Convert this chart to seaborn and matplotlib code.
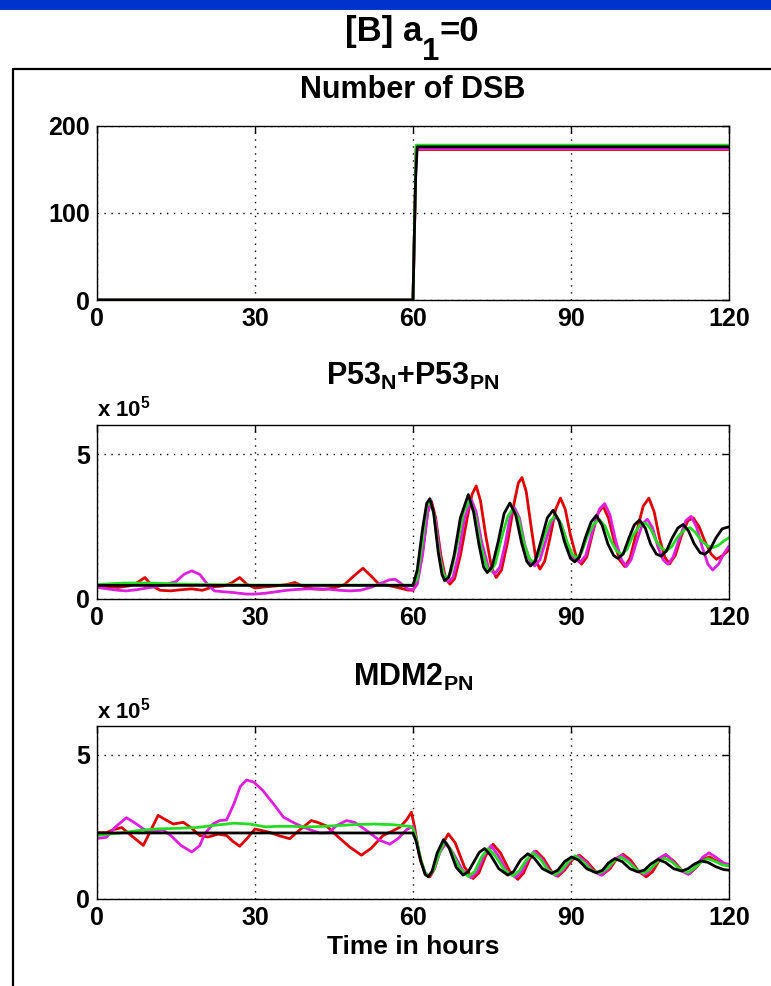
import matplotlib
matplotlib.use("Agg")
import matplotlib.pyplot as plt
import pandas as pd
import seaborn as sns
from matplotlib.lines import Line2D
from matplotlib.patches import Rectangle

sns.set_style("white")
plt.rcParams['font.family'] = ['Liberation Sans', 'DejaVu Sans']
plt.rcParams['font.weight'] = 'bold'
plt.rcParams['text.color'] = 'black'
plt.rcParams['axes.labelcolor'] = 'black'
plt.rcParams['xtick.color'] = 'black'
plt.rcParams['ytick.color'] = 'black'
plt.rcParams['mathtext.fontset'] = 'custom'
plt.rcParams['mathtext.rm'] = 'Liberation Sans:bold'
plt.rcParams['mathtext.bf'] = 'Liberation Sans:bold'
plt.rcParams['mathtext.it'] = 'Liberation Sans:bold'
plt.rcParams['mathtext.default'] = 'rm'

# ---------------- data ----------------
runs = ['red', 'magenta', 'green', 'black']
run_colors = {'red': '#e00000', 'magenta': '#e01ee0', 'green': '#22dd22', 'black': '#000000'}
x_ticks = [0, 30, 60, 90, 120]

# Number of DSB
dsb_t_red = [0, 60, 60.6, 120]
dsb_v_red = [0, 0, 173, 173]
dsb_t_magenta = [0, 60, 60.6, 120]
dsb_v_magenta = [0, 0, 174, 174]
dsb_t_green = [0, 60, 60.6, 120]
dsb_v_green = [0, 0, 178, 178]
dsb_t_black = [0, 60, 60.2, 60.5, 60.8, 120]
dsb_v_black = [0, 0, 60, 140, 176, 176]

# P53_N + P53_PN (x 1e5)
p53_t_red = [0, 2, 4, 6, 7.5, 9.1, 10.5, 12, 14, 16, 18, 20, 22, 24, 25.5, 27.1, 28.5, 30, 32, 34, 36, 37.6, 39, 41, 43, 45, 47, 48.8, 50.5, 52, 53.5, 55, 57, 59, 60,
             60.8, 61.8, 62.8, 63.5, 64.3, 65.3, 66.2, 67.0, 67.9, 69.0, 70.3, 71.2, 72.0, 72.8, 73.8, 74.9, 75.8, 76.8, 78.0, 79.3, 80.0, 80.7, 81.5, 82.5, 83.4, 84.1,
             85.0, 86.0, 87.1, 88.0, 88.9, 89.9, 91.0, 92.0, 93.0, 94.0, 95.1, 96.1, 97.1, 98.2, 99.2, 100.2, 101.2, 102.3, 103.7, 104.8, 105.8, 106.8, 107.8, 108.7,
             109.8, 111.0, 112.2, 113.2, 114.3, 115.4, 116.6, 117.6, 118.8, 120]
p53_v_red = [0.45, 0.42, 0.40, 0.45, 0.55, 0.74, 0.45, 0.30, 0.28, 0.32, 0.35, 0.30, 0.42, 0.45, 0.55, 0.74, 0.50, 0.38, 0.42, 0.45, 0.50, 0.57, 0.45, 0.35, 0.33, 0.38, 0.50, 0.80, 1.06, 0.80, 0.52, 0.48, 0.40, 0.31, 0.30,
             0.6, 1.6, 3.0, 3.37, 2.8, 1.5, 0.7, 0.51, 0.7, 1.5, 2.8, 3.6, 3.90, 3.4, 2.2, 1.1, 0.74, 1.0, 2.0, 3.4, 4.0, 4.19, 3.7, 2.4, 1.3, 1.03,
             1.3, 2.1, 3.1, 3.48, 3.1, 2.2, 1.45, 1.20, 1.45, 2.2, 2.95, 3.2, 2.8, 2.0, 1.35, 1.12, 1.4, 2.2, 3.2, 3.48, 3.0, 2.1, 1.45, 1.21,
             1.5, 2.2, 2.7, 2.80, 2.5, 2.0, 1.55, 1.37, 1.5, 1.69]
p53_t_magenta = [0, 2, 4, 5.6, 7.5, 9.5, 11, 13, 15, 16.5, 18, 19.5, 21, 22.3, 24, 26, 28.4, 30, 32, 34, 36, 38, 40, 42, 44, 46, 48, 50, 52, 54, 55.5, 56.6, 58, 59, 60,
                 60.8, 61.8, 62.8, 63.5, 64.3, 65.3, 66.1, 66.8, 67.6, 68.6, 69.8, 71.1, 72.0, 73.0, 74.3, 75.5, 76.5, 77.5, 78.5, 79.3, 80.2, 81.2, 82.2, 83.1,
                 84.1, 85.2, 86.3, 87.2, 88.2, 89.3, 90.5, 91.7, 92.8, 94.0, 95.4, 96.4, 97.4, 98.5, 99.6, 100.5, 101.4, 102.5, 103.6, 104.5, 105.5, 106.5,
                 107.5, 108.4, 109.4, 110.6, 111.8, 112.8, 113.8, 114.9, 116.0, 116.9, 118.0, 119.0, 120]
p53_v_magenta = [0.40, 0.35, 0.30, 0.28, 0.32, 0.38, 0.42, 0.50, 0.60, 0.85, 0.97, 0.85, 0.50, 0.28, 0.25, 0.22, 0.17, 0.17, 0.20, 0.25, 0.30, 0.33, 0.35, 0.35, 0.34, 0.30, 0.28, 0.30, 0.40, 0.55, 0.66, 0.68, 0.50, 0.35, 0.32,
                 0.5, 1.5, 3.0, 3.3, 2.7, 1.3, 0.7, 0.6, 0.75, 1.5, 2.8, 3.42, 3.0, 2.0, 1.1, 0.86, 1.1, 1.9, 2.9, 3.14, 2.8, 1.9, 1.3, 1.14,
                 1.35, 2.0, 2.65, 2.85, 2.55, 1.9, 1.4, 1.26, 1.5, 2.3, 3.1, 3.29, 2.9, 2.0, 1.35, 1.12, 1.35, 2.0, 2.6, 2.75, 2.45, 1.8,
                 1.35, 1.2, 1.45, 2.1, 2.7, 2.85, 2.5, 1.8, 1.2, 1.0, 1.2, 1.55, 1.83]
p53_t_green = [0, 5, 10, 15, 20, 30, 40, 50, 60,
               60.8, 61.8, 62.6, 63.2, 64.0, 65.0, 65.8, 66.3, 67.2, 68.3, 69.6, 70.8, 71.8, 72.9, 74.0, 74.7, 75.6, 76.8, 78.0, 79.0, 80.0, 81.1, 82.1, 82.8,
               83.8, 85.0, 86.1, 87.1, 88.1, 89.2, 90.2, 91.0, 92.0, 93.2, 94.4, 95.4, 96.5, 97.6, 98.7, 99.6, 100.6, 101.8, 103.1, 104.2, 105.2, 106.2,
               107.2, 108.1, 109.1, 110.3, 111.6, 112.6, 113.6, 114.8, 116.0, 117.0, 118.0, 119.0, 120]
p53_v_green = [0.50, 0.55, 0.55, 0.52, 0.50, 0.48, 0.48, 0.48, 0.48,
               0.7, 2.0, 3.2, 3.4, 2.9, 1.5, 0.85, 0.7, 0.9, 1.8, 3.0, 3.4, 2.9, 1.8, 1.1, 0.97, 1.2, 2.1, 2.85, 3.11, 2.8, 1.9, 1.4, 1.26,
               1.5, 2.2, 2.7, 2.88, 2.6, 2.0, 1.55, 1.42, 1.6, 2.2, 2.6, 2.74, 2.5, 2.0, 1.65, 1.54, 1.7, 2.2, 2.55, 2.62, 2.4, 2.0,
               1.75, 1.66, 1.8, 2.15, 2.4, 2.46, 2.3, 2.0, 1.82, 1.78, 1.85, 2.0, 2.11]
p53_t_black = [0, 60, 60.8, 61.8, 62.6, 63.2, 63.9, 64.8, 65.5, 66.0, 66.8, 67.8, 69.0, 70.5, 71.5, 72.5, 73.4, 74.1, 75.0, 76.2, 77.3, 78.4, 79.5, 80.6,
               81.6, 82.3, 83.2, 84.3, 85.5, 86.6, 87.7, 88.8, 89.9, 90.7, 91.6, 92.7, 93.8, 94.8, 95.9, 97.0, 98.1, 98.9, 99.9, 101.0, 102.0, 103.0,
               104.1, 105.1, 106.2, 107.1, 108.1, 109.2, 110.3, 111.3, 112.3, 113.4, 114.5, 115.4, 116.4, 117.5, 118.7, 120]
p53_v_black = [0.47, 0.47, 1.0, 2.4, 3.3, 3.46, 3.0, 1.6, 0.85, 0.63, 0.75, 1.5, 2.8, 3.6, 3.0, 1.9, 1.1, 0.91, 1.1, 2.0, 2.95, 3.31, 2.9, 1.95,
               1.3, 1.14, 1.3, 2.0, 2.8, 3.06, 2.7, 1.95, 1.4, 1.28, 1.45, 2.1, 2.65, 2.88, 2.55, 1.9, 1.5, 1.40, 1.55, 2.1, 2.55, 2.72,
               2.45, 1.9, 1.55, 1.48, 1.65, 2.1, 2.45, 2.57, 2.35, 1.9, 1.6, 1.54, 1.7, 2.1, 2.42, 2.49]

# MDM2_PN (x 1e5)
mdm_t_red = [0, 1.8, 3, 4.7, 6.5, 8.8, 10, 11.6, 13, 14.5, 16.4, 18, 19.5, 21.1, 23, 24.6, 25.8, 27.1, 28.5, 30, 32.8, 34.5, 36.6, 38.5, 40.7, 42, 43.6,
             45.5, 48, 50.2, 52, 54.3, 56, 57.5, 58.8, 59.7, 60.3, 61.2, 62.3, 63.2, 64.1, 65.3, 66.7, 68.0, 69.8, 71.4, 72.5, 73.8, 75.2, 76.6, 78.4,
             79.9, 81.0, 82.2, 83.4, 84.8, 86.3, 87.5, 88.8, 90.2, 91.6, 93.0, 94.7, 96.1, 97.4, 98.7, 99.9, 101.3, 102.9, 104.3, 105.5, 106.8, 108.1,
             109.6, 111.1, 112.5, 113.8, 115.1, 116.3, 117.8, 119.0, 120]
mdm_v_red = [2.3, 2.3, 2.4, 2.48, 2.2, 1.86, 2.3, 2.9, 2.75, 2.6, 2.66, 2.45, 2.2, 2.15, 2.25, 2.2, 2.0, 1.83, 2.1, 2.43, 2.31, 2.2, 2.09, 2.4, 2.72, 2.65, 2.53,
             2.2, 1.8, 1.52, 1.75, 2.2, 2.35, 2.49, 2.75, 3.01, 2.5, 1.5, 0.9, 0.77, 1.05, 1.8, 2.26, 1.95, 1.1, 0.71, 0.9, 1.5, 1.90, 1.6, 0.95,
             0.68, 0.9, 1.4, 1.66, 1.4, 0.95, 0.79, 1.0, 1.35, 1.52, 1.3, 0.95, 0.86, 1.05, 1.4, 1.55, 1.35, 0.95, 0.77, 0.95, 1.35, 1.52,
             1.3, 0.98, 0.88, 1.1, 1.38, 1.46, 1.3, 1.2, 1.17]
mdm_t_magenta = [0, 1.8, 3.5, 5.6, 7.5, 9.4, 11, 12.5, 14, 16, 18, 19.5, 20.5, 22, 23.3, 24.6, 26, 27.2, 28.4, 29.8, 31.5, 33.5, 35.4, 37.3, 39.2, 40.8,
                 42.3, 44, 45.5, 47.4, 49, 51, 53.5, 55.6, 57.2, 58.8, 60, 60.6, 61.5, 62.3, 63.0, 64.0, 65.2, 66.3, 67.6, 69.4, 71.0, 72.2, 73.6, 74.8,
                 76.2, 77.9, 79.5, 80.7, 81.9, 83.0, 84.4, 86.0, 87.2, 88.5, 89.9, 91.3, 92.7, 94.3, 95.8, 97.1, 98.4, 99.7, 101.1, 102.6, 104.0, 105.3,
                 106.6, 108.0, 109.4, 110.9, 112.3, 113.6, 115.0, 116.2, 117.5, 119.0, 120]
mdm_v_magenta = [2.1, 2.14, 2.5, 2.82, 2.6, 2.35, 2.35, 2.4, 2.2, 1.85, 1.63, 1.85, 2.27, 2.6, 2.72, 2.74, 3.3, 3.9, 4.13, 4.05, 3.76, 3.3, 2.84, 2.65, 2.49, 2.38,
                 2.29, 2.3, 2.55, 2.72, 2.65, 2.4, 2.05, 1.90, 2.1, 2.41, 2.52, 2.1, 1.3, 0.9, 0.8, 1.05, 1.65, 1.95, 1.6, 1.0, 0.73, 0.95, 1.55, 1.85,
                 1.5, 0.95, 0.75, 0.95, 1.4, 1.65, 1.4, 0.95, 0.8, 1.0, 1.35, 1.5, 1.3, 0.95, 0.82, 1.05, 1.4, 1.52, 1.3, 0.98, 0.85, 1.05,
                 1.4, 1.55, 1.3, 0.98, 0.85, 1.1, 1.45, 1.6, 1.45, 1.25, 1.2]
mdm_t_green = [0, 2, 5, 8, 11.3, 15, 19, 22, 26, 29, 32, 34, 37, 40, 43, 46, 49, 52.5, 56, 59.4, 60, 60.6, 61.5, 62.3, 63.0, 63.9, 65.0, 66.0, 67.2, 68.9,
               70.5, 71.7, 73.0, 74.3, 75.6, 77.4, 79.0, 80.2, 81.5, 82.8, 84.2, 85.6, 87.0, 88.3, 89.6, 90.8, 92.2, 93.9, 95.5, 96.8, 98.2, 99.5,
               100.9, 102.4, 103.8, 105.1, 106.5, 107.8, 109.2, 110.8, 112.2, 113.5, 114.8, 116.0, 117.4, 118.8, 120]
mdm_v_green = [2.2, 2.25, 2.3, 2.38, 2.43, 2.45, 2.48, 2.55, 2.63, 2.6, 2.5, 2.52, 2.52, 2.5, 2.52, 2.55, 2.58, 2.6, 2.58, 2.52, 2.45, 2.1, 1.35, 0.9, 0.8, 1.0, 1.6, 2.0, 1.7, 1.05,
               0.78, 0.95, 1.45, 1.75, 1.5, 1.0, 0.8, 0.98, 1.35, 1.6, 1.38, 1.0, 0.85, 1.02, 1.32, 1.5, 1.3, 1.0, 0.9, 1.05, 1.32, 1.45,
               1.28, 1.02, 0.9, 1.05, 1.3, 1.42, 1.28, 1.02, 0.92, 1.08, 1.3, 1.4, 1.3, 1.18, 1.15]
mdm_t_black = [0, 60, 60.6, 61.5, 62.3, 62.9, 63.6, 64.6, 65.8, 66.9, 68.2, 69.5, 70.5, 71.6, 72.6, 73.6, 74.8, 76.3, 78.0, 79.1, 80.4, 81.8, 83.0, 84.6,
               86.3, 87.5, 88.8, 90.1, 91.4, 93.0, 94.8, 96.0, 97.1, 98.3, 99.7, 101.2, 102.7, 103.9, 105.2, 106.5, 107.9, 109.5, 111.0, 112.2, 113.5,
               114.7, 116.0, 117.5, 119.0, 120]
mdm_v_black = [2.29, 2.29, 2.0, 1.3, 0.85, 0.77, 0.95, 1.6, 2.06, 1.75, 1.1, 0.83, 0.95, 1.3, 1.62, 1.75, 1.5, 1.05, 0.83, 0.95, 1.35, 1.57, 1.42, 1.05,
               0.89, 1.0, 1.3, 1.46, 1.35, 1.05, 0.91, 1.0, 1.25, 1.40, 1.3, 1.05, 0.94, 1.0, 1.22, 1.37, 1.27, 1.05, 0.97, 1.05, 1.22,
               1.32, 1.27, 1.12, 1.02, 1.0]


def make_df(ts, vs):
    frames = [pd.DataFrame({'t': t, 'v': v, 'run': r}) for r, t, v in zip(runs, ts, vs)]
    return pd.concat(frames, ignore_index=True)


df_dsb = make_df([dsb_t_red, dsb_t_magenta, dsb_t_green, dsb_t_black],
                 [dsb_v_red, dsb_v_magenta, dsb_v_green, dsb_v_black])
df_p53 = make_df([p53_t_red, p53_t_magenta, p53_t_green, p53_t_black],
                 [p53_v_red, p53_v_magenta, p53_v_green, p53_v_black])
df_mdm = make_df([mdm_t_red, mdm_t_magenta, mdm_t_green, mdm_t_black],
                 [mdm_v_red, mdm_v_magenta, mdm_v_green, mdm_v_black])

# ---------------- figure ----------------
W, H = 771, 986
fig = plt.figure(figsize=(W / 100, H / 100), dpi=100)
fig.patch.set_facecolor('white')

# blue strip at top and black frame
fig.add_artist(Rectangle((0, 1 - 10 / H), 1, 10 / H, transform=fig.transFigure,
                         facecolor='#0033cc', edgecolor='none'))
fig.add_artist(Line2D([13 / W, 13 / W, 1.0], [0.0, 1 - 69 / H, 1 - 69 / H],
                      transform=fig.transFigure, color='black', lw=1.6))

# super title "[B] a_1=0" composed of three pieces (large, low subscript)
renderer = fig.canvas.get_renderer()
title_fs = 25
t_main = fig.text(0, 1 - 41 / H, "[B] a", ha='left', va='baseline', fontsize=title_fs, fontweight='bold')
t_sub = fig.text(0, 1 - 60 / H, "1", ha='left', va='baseline', fontsize=title_fs * 0.9, fontweight='bold')
t_end = fig.text(0, 1 - 41 / H, "=0", ha='left', va='baseline', fontsize=title_fs, fontweight='bold')
w_main = t_main.get_window_extent(renderer).width
w_sub = t_sub.get_window_extent(renderer).width
w_end = t_end.get_window_extent(renderer).width
total = w_main + w_sub + w_end
x0 = 412 - total / 2
t_main.set_x(x0 / W)
t_sub.set_x((x0 + w_main) / W)
t_end.set_x((x0 + w_main + w_sub) / W)


def setup_ax(top_px, bottom_px):
    left, right = 97, 729
    ax = fig.add_axes([left / W, 1 - bottom_px / H, (right - left) / W, (bottom_px - top_px) / H])
    return ax


def style_ax(ax, ylim, yticks):
    ax.set_xlim(0, 120)
    ax.set_ylim(*ylim)
    ax.set_xticks(x_ticks)
    ax.set_yticks(yticks)
    ax.set_xlabel('')
    ax.set_ylabel('')
    ax.grid(True, linestyle=(0, (1, 4)), color='black', lw=1.0)
    ax.tick_params(direction='in', top=True, right=True, length=5, width=1,
                   labelsize=18, pad=5, colors='black')
    for s in ax.spines.values():
        s.set_visible(True)
        s.set_color('black')
        s.set_linewidth(1.0)


def draw(ax, df):
    sns.lineplot(data=df, x='t', y='v', hue='run', hue_order=runs, palette=run_colors,
                 estimator=None, sort=False, legend=False, linewidth=2.0, ax=ax)


ax1 = setup_ax(126, 300)
draw(ax1, df_dsb)
style_ax(ax1, (0, 200), [0, 100, 200])
ax1.set_title("Number of DSB", fontsize=22, fontweight='bold', pad=20, color='black')

ax2 = setup_ax(425, 599)
draw(ax2, df_p53)
style_ax(ax2, (0, 6), [0, 5])
ax2.set_title(r"P53$_{\mathrm{N}}$+P53$_{\mathrm{PN}}$", fontsize=22, fontweight='bold', pad=29, color='black')
ax2.text(0.0, 1.046, r"x 10$^{5}$", transform=ax2.transAxes, ha='left', va='baseline',
         fontsize=16, fontweight='bold', color='black')

ax3 = setup_ax(726, 899)
draw(ax3, df_mdm)
style_ax(ax3, (0, 6), [0, 5])
ax3.set_title(r"MDM2$_{\mathrm{PN}}$", fontsize=22, fontweight='bold', pad=29, color='black')
ax3.text(0.0, 1.046, r"x 10$^{5}$", transform=ax3.transAxes, ha='left', va='baseline',
         fontsize=16, fontweight='bold', color='black')
ax3.set_xlabel("Time in hours", fontsize=19, fontweight='bold', labelpad=4, color='black')

fig.savefig("out.png", dpi=100)
